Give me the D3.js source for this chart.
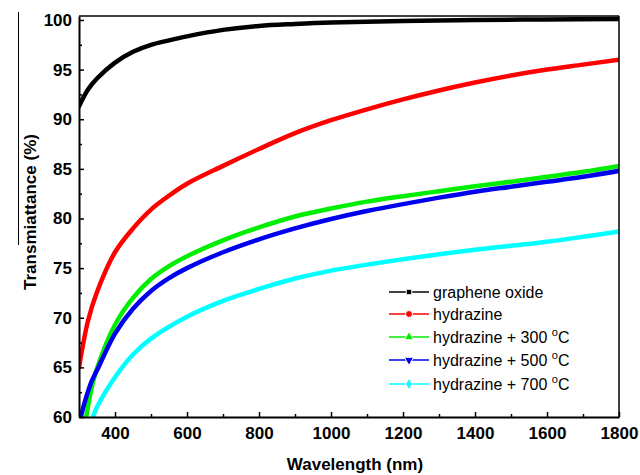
<!DOCTYPE html>
<html>
<head>
<meta charset="utf-8">
<script src="https://cdn.jsdelivr.net/npm/d3@7"></script>
<style>
  body { margin: 0; background: #fff; }
  text { font-family: "Liberation Sans", Arial, sans-serif; }
</style>
</head>
<body>
<script>
// values

var names = ["graphene oxide", "hydrazine", "hydrazine + 300 ", "hydrazine + 500 ", "hydrazine + 700 "];
var degree = [false, false, true, true, true];
var colors = ["#000000", "#ff0000", "#00ee00", "#0000ee", "#00ffff"];
var symbols = [d3.symbolSquare, d3.symbolCircle, d3.symbolTriangle, d3.symbolTriangle, d3.symbolDiamond];

var goWl = [300, 325, 350, 400, 450, 500, 550, 600, 700, 800, 900, 1000, 1200, 1400, 1600, 1800];
var goT  = [91.3, 93.0, 94.1, 95.7, 96.8, 97.5, 97.95, 98.35, 99.0, 99.4, 99.6, 99.75, 99.9, 100.0, 100.05, 100.1];

var hyWl = [300, 325, 350, 400, 450, 500, 550, 600, 700, 800, 900, 1000, 1100, 1200, 1300, 1400, 1500, 1600, 1700, 1800];
var hyT  = [65.0, 69.7, 72.6, 76.6, 79.0, 80.9, 82.3, 83.5, 85.3, 87.0, 88.6, 89.9, 91.0, 92.0, 92.9, 93.7, 94.4, 95.0, 95.5, 96.0];

var h300Wl = [320, 335, 350, 400, 450, 500, 550, 600, 700, 800, 900, 1000, 1100, 1200, 1300, 1400, 1500, 1600, 1700, 1800];
var h300T  = [60.0, 62.9, 64.9, 69.3, 72.0, 73.9, 75.2, 76.2, 77.8, 79.1, 80.2, 81.0, 81.7, 82.25, 82.75, 83.25, 83.7, 84.2, 84.7, 85.3];

var h500Wl = [305, 320, 335, 350, 400, 450, 500, 550, 600, 700, 800, 900, 1000, 1100, 1200, 1300, 1400, 1500, 1600, 1700, 1800];
var h500T  = [60.0, 62.0, 63.6, 64.7, 68.4, 70.9, 72.7, 74.0, 75.0, 76.6, 77.9, 79.0, 79.95, 80.75, 81.45, 82.1, 82.7, 83.2, 83.7, 84.2, 84.8];

var h700Wl = [339, 350, 400, 450, 500, 600, 700, 800, 900, 1000, 1100, 1200, 1300, 1400, 1500, 1600, 1700, 1800];
var h700T  = [60.0, 61.0, 64.0, 66.3, 67.9, 70.1, 71.7, 72.9, 73.95, 74.75, 75.35, 75.9, 76.4, 76.85, 77.25, 77.65, 78.15, 78.7];

var xTicks = [400, 600, 800, 1000, 1200, 1400, 1600, 1800];
var xMinor = [500, 700, 900, 1100, 1300, 1500, 1700];
var yTicks = [60, 65, 70, 75, 80, 85, 90, 95, 100];
var yMinor = [62.5, 67.5, 72.5, 77.5, 82.5, 87.5, 92.5, 97.5];

var series = [[goWl, goT], [hyWl, hyT], [h300Wl, h300T], [h500Wl, h500T], [h700Wl, h700T]].map(function (s, i) {
  return {
    name: names[i],
    color: colors[i],
    points: s[0].map(function (w, j) { return { wl: w, t: s[1][j] }; })
  };
});

var width = 640;
var height = 475;
var margin = {top: 16, right: 21, bottom: 58, left: 79};

var svg = d3.select("body")
  .append("svg")
  .attr("width", width)
  .attr("height", height);

var x = d3.scaleLinear()
  .domain([300, 1800])
  .range([margin.left, width - margin.right]);

var y = d3.scaleLinear()
  .domain([60, 100.4])
  .range([height - margin.bottom, margin.top]);

svg.append("clipPath")
  .attr("id", "plot")
  .append("rect")
  .attr("x", margin.left)
  .attr("y", margin.top)
  .attr("width", x.range()[1] - margin.left)
  .attr("height", y.range()[0] - margin.top);

// stray line at the left edge of the scan
svg.append("line")
  .attr("x1", 18.5).attr("x2", 18.5)
  .attr("y1", 12).attr("y2", 245)
  .attr("stroke", "#000")
  .attr("stroke-width", 1);

var line = d3.line()
  .curve(d3.curveCatmullRom.alpha(0.5))
  .x(function (d) { return x(d.wl); })
  .y(function (d) { return y(d.t); });

svg.append("g")
  .attr("clip-path", "url(#plot)")
  .selectAll("path")
  .data(series)
  .enter()
  .append("path")
  .attr("d", function (d) { return line(d.points); })
  .attr("fill", "none")
  .attr("stroke", function (d) { return d.color; })
  .attr("stroke-width", 4.5)
  .attr("stroke-linecap", "round");

// frame: top and right
svg.append("line")
  .attr("x1", margin.left).attr("x2", x.range()[1])
  .attr("y1", margin.top).attr("y2", margin.top)
  .attr("stroke", "#000").attr("stroke-width", 1.5);
svg.append("line")
  .attr("x1", x.range()[1]).attr("x2", x.range()[1])
  .attr("y1", margin.top).attr("y2", y.range()[0])
  .attr("stroke", "#000").attr("stroke-width", 1.5);

svg.append("g")
  .attr("transform", "translate(0," + y.range()[0] + ")")
  .call(d3.axisBottom(x).tickValues(xTicks).tickFormat(d3.format("d"))
    .tickSize(-5).tickSizeOuter(0).tickPadding(10));

svg.append("g")
  .attr("transform", "translate(0," + y.range()[0] + ")")
  .call(d3.axisBottom(x).tickValues(xMinor).tickSize(-3).tickSizeOuter(0).tickFormat(""))
  .select(".domain").remove();

svg.append("g")
  .attr("transform", "translate(" + margin.left + ",0)")
  .call(d3.axisLeft(y).tickValues(yTicks).tickFormat(d3.format("d"))
    .tickSize(-5).tickSizeOuter(0).tickPadding(7));

svg.append("g")
  .attr("transform", "translate(" + margin.left + ",0)")
  .call(d3.axisLeft(y).tickValues(yMinor).tickSize(-3).tickSizeOuter(0).tickFormat(""))
  .select(".domain").remove();

svg.selectAll(".domain").attr("stroke-width", 2);
svg.selectAll(".tick line").attr("stroke-width", 1.5);
svg.selectAll(".tick text")
  .style("font-family", "'Liberation Sans', Arial, sans-serif")
  .style("font-size", "17px")
  .style("font-weight", "bold")
  .attr("fill", "#000");

svg.append("text")
  .attr("x", (margin.left + x.range()[1]) / 2 + 6)
  .attr("y", 470)
  .attr("text-anchor", "middle")
  .style("font-size", "17px")
  .style("font-weight", "bold")
  .text("Wavelength (nm)");

svg.append("text")
  .attr("transform", "translate(36,212) rotate(-90)")
  .attr("text-anchor", "middle")
  .style("font-size", "17px")
  .style("font-weight", "bold")
  .text("Transmiattance (%)");

// legend
var legend = svg.append("g");
var rowY = [292, 314, 337, 360, 384];

series.forEach(function (s, i) {
  var row = legend.append("g").attr("transform", "translate(0," + rowY[i] + ")");
  row.append("line")
    .attr("x1", 389).attr("x2", 429)
    .attr("stroke", s.color).attr("stroke-width", 1.5);
  row.append("path")
    .attr("transform", "translate(409,0)" + (i === 3 ? " rotate(180)" : ""))
    .attr("d", d3.symbol().type(symbols[i]).size(i === 0 ? 30 : 38)())
    .attr("fill", s.color)
    .attr("stroke", "#fff")
    .attr("stroke-width", 1);
  var t = row.append("text")
    .attr("x", 433)
    .attr("y", 6)
    .style("font-size", "16px")
    .text(s.name);
  if (degree[i]) {
    t.append("tspan").attr("dy", -7).style("font-size", "11px").text("o");
    t.append("tspan").attr("dy", 7).text("C");
  }
});
</script>
</body>
</html>
